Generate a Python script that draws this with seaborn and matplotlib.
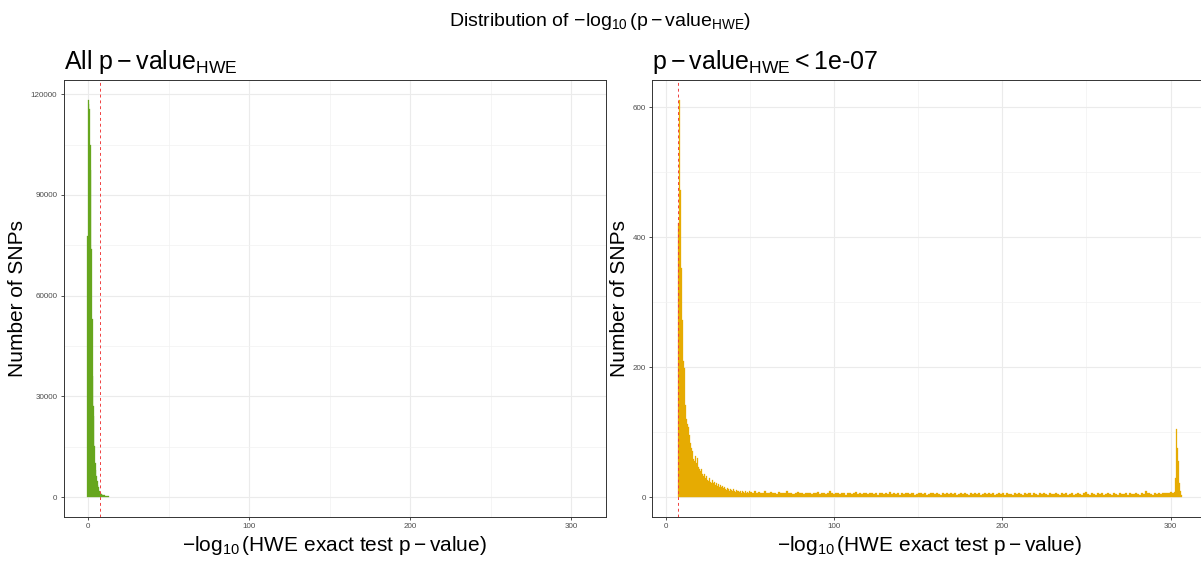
import numpy as np
import pandas as pd
import matplotlib
matplotlib.use("Agg")
import matplotlib.pyplot as plt
import seaborn as sns
from matplotlib.ticker import MultipleLocator

# ---------------- data ----------------
# left panel: all SNPs, bins of width 0.4 starting at -0.6
left_start = -0.6
left_binwidth = 0.4
left_counts = [77900, 118300, 117000, 115600, 105000, 97300, 73900, 52900, 36000,
               27000, 24100, 15100, 10200, 8000, 6200, 4800, 3700, 3000, 1800,
               1250, 1100, 950, 800, 700, 620, 560, 500, 450, 400, 350, 300,
               260, 220, 180]

# right panel: SNPs with p < 1e-07
right_start = 6.7
head_binwidth = 0.6
right_head_counts = [421, 611, 473, 352, 272, 210, 199, 141, 120, 112, 108, 96, 84,
                     76, 71, 58, 55, 63, 52, 60, 47, 43, 40, 44, 35, 33, 36, 30, 32,
                     27, 25, 29, 24, 22, 26, 21, 23, 19, 22, 17, 20, 16, 18, 15, 17,
                     14, 16, 13, 11, 14, 12, 10, 13, 11, 9, 12, 10, 8, 11, 9, 10, 8,
                     9, 7, 10, 8, 7, 9, 6, 8, 7, 9]
tail_binwidth = 1.2
right_tail_counts = [8, 7, 9, 6, 8, 7, 6, 9, 7, 6,
                     8, 6, 7, 5, 8, 7, 6, 7, 9, 6,
                     7, 5, 6, 8, 6, 7, 5, 6, 7, 6,
                     5, 7, 6, 8, 5, 6, 7, 5, 6, 9,
                     6, 5, 7, 6, 5, 7, 6, 4, 6, 7,
                     5, 6, 8, 5, 6, 5, 7, 6, 5, 6,
                     7, 5, 6, 4, 6, 7, 5, 6, 5, 8,
                     5, 6, 5, 7, 4, 6, 5, 6, 7, 5,
                     6, 4, 5, 7, 6, 5, 6, 4, 5, 6,
                     7, 5, 6, 5, 4, 6, 5, 7, 5, 6,
                     5, 6, 4, 5, 7, 5, 6, 5, 4, 6,
                     5, 7, 5, 6, 4, 5, 6, 5, 7, 5,
                     6, 4, 5, 6, 5, 7, 4, 6, 5, 5,
                     4, 6, 5, 7, 5, 4, 6, 5, 6, 4,
                     6, 5, 4, 6, 5, 7, 5, 4, 6, 5,
                     5, 6, 5, 4, 7, 5, 6, 4, 5, 6,
                     4, 5, 6, 5, 4, 6, 8, 5, 4, 6,
                     5, 4, 6, 5, 7, 4, 5, 6, 5, 4,
                     6, 5, 4, 6, 5, 5, 7, 4, 6, 5,
                     5, 6, 5, 4, 6, 5, 10, 6, 5, 4,
                     6, 5, 7, 5, 6, 6, 7, 6, 8, 7]
spike_binwidth = 0.6
right_spike_counts = [8, 30, 105, 75, 55, 22, 9, 3]

hwe_threshold = 7  # -log10(1e-07)

left_yticks = [0, 30000, 60000, 90000, 120000]
right_yticks = [0, 200, 400, 600]
x_ticks = [0, 100, 200, 300]
data_xmax = 306.7

green = "#66A61E"
yellow = "#E6AB02"

# --------------- build bins ---------------
left_edges = left_start + left_binwidth * np.arange(len(left_counts) + 1)
left_centers = (left_edges[:-1] + left_edges[1:]) / 2

e1 = right_start + head_binwidth * np.arange(len(right_head_counts) + 1)
e2 = e1[-1] + tail_binwidth * np.arange(1, len(right_tail_counts) + 1)
e3 = e2[-1] + spike_binwidth * np.arange(1, len(right_spike_counts) + 1)
right_edges = np.concatenate([e1, e2, e3])
right_counts = right_head_counts + right_tail_counts + right_spike_counts
right_centers = (right_edges[:-1] + right_edges[1:]) / 2

df_left = pd.DataFrame({"x": left_centers, "n": left_counts})
df_right = pd.DataFrame({"x": right_centers, "n": right_counts})

# --------------- style ---------------
sns.set_theme(style="white")
plt.rcParams["font.family"] = ["Liberation Sans", "DejaVu Sans"]
plt.rcParams["mathtext.fontset"] = "custom"
plt.rcParams["mathtext.rm"] = "Liberation Sans"
plt.rcParams["mathtext.it"] = "Liberation Sans:italic"
plt.rcParams["mathtext.bf"] = "Liberation Sans:bold"
plt.rcParams["text.color"] = "black"
plt.rcParams["axes.labelcolor"] = "black"

fig = plt.figure(figsize=(12.01, 5.62), dpi=100)
W, H = 1201, 562


def px_axes(x0, x1, ytop, ybot):
    return fig.add_axes([x0 / W, (H - ybot) / H, (x1 - x0) / W, (ybot - ytop) / H])


ax1 = px_axes(63.6, 606, 80, 517)
ax2 = px_axes(652.3, 1207, 80, 517)

xlabel = r"$-\log_{10}(\mathrm{HWE\ exact\ test\ p}-\mathrm{value})$"


def style_axes(ax, yticks, ymax, minor_y):
    ax.set_xticks(x_ticks)
    ax.set_yticks(yticks)
    ax.xaxis.set_minor_locator(MultipleLocator(50))
    ax.yaxis.set_minor_locator(MultipleLocator(minor_y))
    ax.grid(True, which="major", color="#EBEBEB", lw=0.8, zorder=0)
    ax.grid(True, which="minor", color="#F2F2F2", lw=0.5, zorder=0)
    ax.set_axisbelow(True)
    for s in ax.spines.values():
        s.set_color("#333333")
        s.set_linewidth(0.7)
    ax.tick_params(axis="both", which="major", labelsize=5.8, labelcolor="#4D4D4D",
                   color="#333333", length=2.5, width=0.6, pad=2, left=True, bottom=True)
    ax.tick_params(axis="both", which="minor", length=0)
    ax.set_ylim(-0.05 * ymax, 1.05 * ymax)
    ax.set_xlabel(xlabel, fontsize=15, labelpad=3, color="black")
    ax.set_ylabel("Number of SNPs", fontsize=15, labelpad=2.5, color="black")


sns.histplot(data=df_left, x="x", weights="n", bins=list(left_edges), ax=ax1,
             color=green, alpha=1, edgecolor=green, linewidth=0.2, zorder=2)
ax1.set_xlim(-15.4, 321.7)
style_axes(ax1, left_yticks, max(left_counts), 15000)
ax1.axvline(hwe_threshold, color="#F04040", lw=0.7, ls=(0, (3, 3)), zorder=3)
ax1.set_title(r"All $\mathrm{p}-\mathrm{value}_{\mathrm{HWE}}$", loc="left",
              fontsize=18, pad=8, color="black")

sns.histplot(data=df_right, x="x", weights="n", bins=list(right_edges), ax=ax2,
             color=yellow, alpha=1, edgecolor=yellow, linewidth=0.2, zorder=2)
rng = data_xmax - right_start
ax2.set_xlim(right_start - 0.05 * rng, data_xmax + 0.05 * rng)
style_axes(ax2, right_yticks, max(right_counts), 100)
ax2.axvline(hwe_threshold, color="#F04040", lw=0.7, ls=(0, (3, 3)), zorder=3)
ax2.set_title(r"$\mathrm{p}-\mathrm{value}_{\mathrm{HWE}} < $1e-07", loc="left",
              fontsize=18, pad=8, color="black")

fig.text(0.5, 1 - 22 / H, r"Distribution of $-\log_{10}(\mathrm{p}-\mathrm{value}_{\mathrm{HWE}})$",
         ha="center", va="center", fontsize=14, color="black")

fig.savefig("out.png", dpi=100)
